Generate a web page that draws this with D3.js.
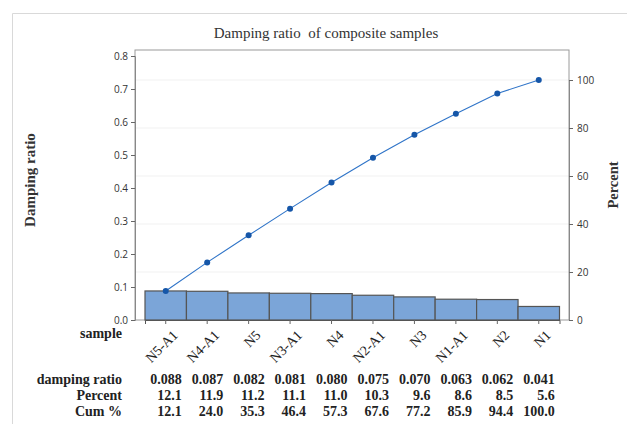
<!DOCTYPE html>
<html><head><meta charset="utf-8">
<script src="https://cdn.jsdelivr.net/npm/d3@7"></script>
<style>body{margin:0;background:#fff}svg{display:block}</style>
</head><body>
<svg id="c" width="627" height="424"></svg>
<script>
const samples = ["N5-A1","N4-A1","N5","N3-A1","N4","N2-A1","N3","N1-A1","N2","N1"];
const damping = [0.088,0.087,0.082,0.081,0.080,0.075,0.070,0.063,0.062,0.041];
const percent = [12.1,11.9,11.2,11.1,11.0,10.3,9.6,8.6,8.5,5.6];
const cumPct  = [12.1,24.0,35.3,46.4,57.3,67.6,77.2,85.9,94.4,100.0];
const leftTicks = [0,0.1,0.2,0.3,0.4,0.5,0.6,0.7,0.8];
const rightTicks = [0,20,40,60,80,100];

const svg = d3.select("#c");
const serif = "'Liberation Serif','Times New Roman',serif";
const sans = "'Open Sans','Noto Sans',sans-serif";
const L=135, R=569, T=50, B=320;

// outer frame
svg.append("path").attr("d","M12.5,424 L12.5,13.5 L627,13.5").attr("fill","none").attr("stroke","#d9d9d9");

const x = d3.scaleBand().domain(samples).range([145,559.5]).padding(0);
const y = d3.scaleLinear().domain([0,0.8]).range([B,56]);
const y2 = d3.scaleLinear().domain([0,100]).range([B,80]);

// gridlines at percent ticks
svg.append("g").selectAll("line").data(rightTicks.slice(1)).join("line")
  .attr("x1",L).attr("x2",R).attr("y1",d=>y2(d)).attr("y2",d=>y2(d))
  .attr("stroke","#f2f2f2").attr("stroke-width",1.2);

// plot box
svg.append("rect").attr("x",L).attr("y",T).attr("width",R-L).attr("height",B-T)
  .attr("fill","none").attr("stroke","#9a9a9a").attr("stroke-width",1);

// bars
svg.append("g").selectAll("rect").data(samples).join("rect")
  .attr("x",d=>x(d)).attr("width",x.bandwidth())
  .attr("y",(d,i)=>y(damping[i])).attr("height",(d,i)=>B-y(damping[i]))
  .attr("fill","#7ba5d8").attr("stroke","#555").attr("stroke-width",1.2);

// axes
const ga = svg.append("g").attr("transform",`translate(${L},0)`)
  .call(d3.axisLeft(y).tickValues(leftTicks).tickFormat(d3.format(".1f")).tickSize(4).tickPadding(3));
const gb = svg.append("g").attr("transform",`translate(${R},0)`)
  .call(d3.axisRight(y2).tickValues(rightTicks).tickSize(4).tickPadding(4));
const gx = svg.append("g").attr("transform",`translate(0,${B})`)
  .call(d3.axisBottom(x).tickSize(4).tickFormat(""));
[ga,gb,gx].forEach(g=>{
  g.select(".domain").attr("stroke","#888");
  g.selectAll(".tick line").attr("stroke","#666");
  g.selectAll("text").attr("font-family",sans).attr("font-size",10).attr("fill","#333");
});
gx.select(".domain").attr("stroke","#555");

// x tick labels rotated
svg.append("g").selectAll("text").data(samples).join("text")
  .attr("transform",d=>`translate(${x(d)+x.bandwidth()/2+6},${B+9}) rotate(-45)`)
  .attr("text-anchor","end").attr("dy","0.7em")
  .attr("font-family",serif).attr("font-size",14).attr("fill","#222")
  .text(d=>d);

// cumulative line
const cx = (d,i)=>x(samples[i])+x.bandwidth()/2;
svg.append("path").datum(cumPct)
  .attr("d",d3.line().x((d,i)=>cx(d,i)).y(d=>y2(d)))
  .attr("fill","none").attr("stroke","#2f74c8").attr("stroke-width",1.1);
svg.append("g").selectAll("circle").data(cumPct).join("circle")
  .attr("cx",(d,i)=>cx(d,i)).attr("cy",d=>y2(d)).attr("r",3)
  .attr("fill","#1556a8");

// title
svg.append("text").attr("x",326).attr("y",38).attr("text-anchor","middle")
  .attr("font-family",serif).attr("font-size",15).attr("fill","#333")
  .attr("xml:space","preserve").text("Damping ratio  of composite samples");

// axis titles
svg.append("text").attr("transform","translate(35,180) rotate(-90)").attr("text-anchor","middle")
  .attr("font-family",serif).attr("font-size",15).attr("font-weight","bold").attr("fill","#333").text("Damping ratio");
svg.append("text").attr("transform","translate(618,185) rotate(-90)").attr("text-anchor","middle")
  .attr("font-family",serif).attr("font-size",14.5).attr("font-weight","bold").attr("fill","#333").text("Percent");

// sample label
svg.append("text").attr("x",122).attr("y",338).attr("text-anchor","end")
  .attr("font-family",serif).attr("font-size",14).attr("font-weight","bold").attr("fill","#222").text("sample");

// table
const rows = [
  {label:"damping ratio", vals: damping.map(d=>d3.format(".3f")(d))},
  {label:"Percent", vals: percent.map(d=>d3.format(".1f")(d))},
  {label:"Cum %", vals: cumPct.map(d=>d3.format(".1f")(d))}
];
const rowY = [384,400,416];
rows.forEach((r,ri)=>{
  svg.append("text").attr("x",122).attr("y",rowY[ri]).attr("text-anchor","end")
    .attr("font-family",serif).attr("font-size",14).attr("font-weight","bold").attr("fill","#222").text(r.label);
  svg.append("g").selectAll("text").data(r.vals).join("text")
    .attr("x",(d,i)=>x(samples[i])+x.bandwidth()/2+16).attr("y",rowY[ri]).attr("text-anchor","end")
    .attr("font-family",serif).attr("font-size",14).attr("font-weight","bold").attr("fill","#222").text(d=>d);
});
</script>
</body></html>
